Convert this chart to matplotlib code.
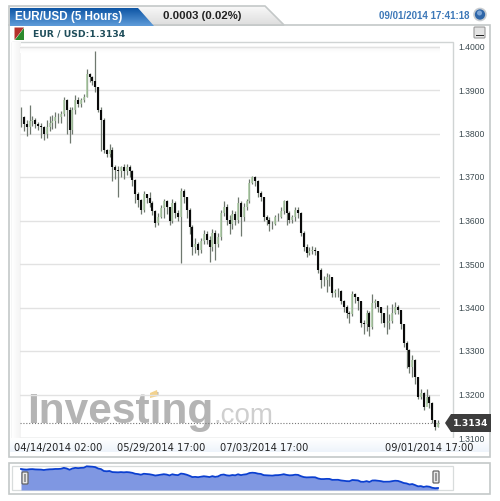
import numpy as np
import matplotlib
matplotlib.use("Agg")
import matplotlib.pyplot as plt
from matplotlib.patches import Rectangle, Polygon, FancyBboxPatch, Circle

closes = [
 1.3837,1.3821,1.3814,1.3828,1.3832,1.3821,1.3818,1.3814,1.3798,1.3814,
 1.3825,1.3828,1.3837,1.3837,1.3844,1.3878,1.3855,1.3809,1.3855,1.3878,
 1.3867,1.3878,1.3883,1.3936,1.3929,1.3920,1.3906,1.3855,1.3832,1.3763,
 1.3752,1.3763,1.3722,1.3717,1.3713,1.3722,1.3713,1.3722,1.3713,1.3694,
 1.3660,1.3648,1.3625,1.3660,1.3652,1.3641,1.3621,1.3595,1.3609,1.3628,1.3644,1.3630,
 1.3598,1.3641,1.3618,1.3609,1.3667,1.3653,1.3625,1.3586,1.3538,1.3545,
 1.3533,1.3552,1.3568,1.3556,1.3538,1.3572,1.3545,1.3563,1.3618,1.3632,
 1.3602,1.3591,1.3614,1.3602,1.3641,1.3609,1.3630,1.3644,1.3687,1.3699,
 1.3690,1.3664,1.3653,1.3609,1.3602,1.3591,1.3591,1.3607,1.3609,1.3621,
 1.3644,1.3618,1.3602,1.3607,1.3625,1.3618,1.3572,1.3538,1.3526,1.3531,
 1.3533,1.3529,1.3487,1.3464,1.3464,1.3471,1.3469,1.3434,1.3437,1.3437,
 1.3414,1.3402,1.3388,1.3384,1.3430,1.3423,1.3414,1.3365,1.3361,1.3388,
 1.3356,1.3411,1.3414,1.3402,1.3388,1.3365,1.3365,1.3368,1.3388,1.3402,
 1.3395,1.3361,1.3319,1.3303,1.3264,1.3280,1.3241,1.3195,1.3204,
 1.3172,1.3195,1.3181,1.3142,1.3126,1.3134]
highs = [
 1.3860,1.3840,1.3830,1.3865,1.3840,1.3835,1.3826,1.3825,1.3818,1.3830,
 1.3840,1.3842,1.3850,1.3848,1.3852,1.3885,1.3880,1.3860,1.3862,1.3888,
 1.3885,1.3882,1.3890,1.3948,1.3940,1.3932,1.3990,1.3906,1.3860,1.3835,
 1.3765,1.3775,1.3768,1.3728,1.3725,1.3725,1.3730,1.3730,1.3728,1.3715,
 1.3695,1.3665,1.3650,1.3668,1.3662,1.3665,1.3645,1.3625,1.3618,1.3635,1.3650,1.3648,
 1.3632,1.3650,1.3645,1.3625,1.3675,1.3672,1.3655,1.3628,1.3590,1.3560,
 1.3550,1.3560,1.3578,1.3575,1.3565,1.3580,1.3578,1.3572,1.3625,1.3645,
 1.3638,1.3612,1.3625,1.3622,1.3655,1.3645,1.3640,1.3650,1.3695,1.3703,
 1.3702,1.3692,1.3668,1.3655,1.3612,1.3608,1.3600,1.3612,1.3618,1.3630,
 1.3648,1.3648,1.3622,1.3612,1.3630,1.3632,1.3620,1.3575,1.3545,1.3538,
 1.3542,1.3538,1.3530,1.3490,1.3472,1.3480,1.3478,1.3470,1.3442,1.3445,
 1.3440,1.3418,1.3405,1.3392,1.3438,1.3434,1.3425,1.3415,1.3372,1.3395,
 1.3392,1.3432,1.3420,1.3415,1.3402,1.3388,1.3405,1.3385,1.3408,1.3412,
 1.3405,1.3395,1.3362,1.3322,1.3305,1.3290,1.3282,1.3240,1.3212,
 1.3205,1.3212,1.3198,1.3182,1.3142,1.3142]
lows = [
 1.3815,1.3805,1.3795,1.3800,1.3818,1.3812,1.3808,1.3790,1.3785,1.3790,
 1.3805,1.3810,1.3812,1.3825,1.3825,1.3840,1.3800,1.3778,1.3800,1.3845,
 1.3860,1.3862,1.3872,1.3883,1.3918,1.3912,1.3895,1.3850,1.3760,1.3755,
 1.3745,1.3745,1.3690,1.3695,1.3655,1.3700,1.3695,1.3705,1.3700,1.3680,
 1.3640,1.3630,1.3615,1.3620,1.3640,1.3630,1.3612,1.3585,1.3590,1.3605,1.3605,1.3615,
 1.3590,1.3595,1.3605,1.3598,1.3503,1.3640,1.3605,1.3570,1.3520,1.3525,
 1.3520,1.3525,1.3545,1.3545,1.3505,1.3530,1.3510,1.3540,1.3555,1.3610,
 1.3590,1.3570,1.3580,1.3590,1.3595,1.3565,1.3600,1.3625,1.3640,1.3685,
 1.3680,1.3655,1.3645,1.3600,1.3590,1.3575,1.3580,1.3590,1.3598,1.3605,
 1.3615,1.3590,1.3595,1.3595,1.3600,1.3605,1.3565,1.3530,1.3515,1.3520,
 1.3522,1.3520,1.3480,1.3445,1.3450,1.3435,1.3450,1.3425,1.3425,1.3425,
 1.3408,1.3390,1.3375,1.3365,1.3380,1.3410,1.3395,1.3355,1.3340,1.3345,
 1.3335,1.3350,1.3400,1.3390,1.3365,1.3355,1.3340,1.3350,1.3365,1.3385,
 1.3385,1.3350,1.3310,1.3260,1.3250,1.3240,1.3225,1.3190,1.3190,
 1.3165,1.3180,1.3170,1.3135,1.3118,1.3125]
x_tick_bars = [13, 49, 85, 143]
x_tick_labels = ["04/14/2014 02:00", "05/29/2014 17:00", "07/03/2014 17:00", "09/01/2014 17:00"]
y_ticks = [1.31, 1.32, 1.33, 1.34, 1.35, 1.36, 1.37, 1.38, 1.39, 1.40]
last_price = 1.3134

W, H = 500, 501
fig = plt.figure(figsize=(W/100, H/100), dpi=100, facecolor="white")
plt.rcParams["font.family"] = ["Liberation Sans", "DejaVu Sans"]

def rect(l, t, r, b):
    return [l/W, 1-b/H, (r-l)/W, (b-t)/H]

# ---- chrome layer in pixel coordinates
bg = fig.add_axes([0, 0, 1, 1], zorder=0)
bg.set_xlim(0, W); bg.set_ylim(H, 0); bg.axis("off")
BORD = "#c4c8c8"
LSC = matplotlib.colors.LinearSegmentedColormap
bg.add_patch(Rectangle((9, 25), 481, 432, fc="white", ec=BORD, lw=1.2))
bg.add_patch(Rectangle((11.5, 41.5), 441.5, 396.5, fc="white", ec="#d0d4d4", lw=1))
# axis label band
band = np.linspace(0, 1, 20)[:, None]
bg.imshow(band, extent=(10, 489, 452, 438), cmap=LSC.from_list("b", ["#ffffff", "#eef4fb"]), aspect="auto", zorder=1)
# left and top fade of plot area
bg.imshow(np.linspace(0, 1, 20)[None, :], extent=(12, 21, 438, 42),
          cmap=LSC.from_list("l", ["#ffffff", "#f3f3f3"]), aspect="auto", zorder=1)
bg.imshow(np.linspace(0, 1, 10)[:, None], extent=(20, 440, 53, 46),
          cmap=LSC.from_list("t", ["#f5f5f5", "#ffffff"]), aspect="auto", zorder=1)
# gray tab
grey_tab = bg.imshow(np.linspace(0, 1, 20)[:, None], extent=(9, 284, 25, 6),
                     cmap=LSC.from_list("g", ["#f8f8f8", "#dedede"]), aspect="auto", zorder=2)
grey_poly = Polygon([(9, 25), (9, 6), (265, 6), (284, 25)], closed=True, fc="none", ec=BORD, lw=1.2, zorder=3)
bg.add_patch(grey_poly)
grey_tab.set_clip_path(grey_poly)
# blue tab
blue_tab = bg.imshow(np.linspace(0, 1, 20)[:, None], extent=(10, 154, 26, 8),
                     cmap=LSC.from_list("bl", ["#0f57a6", "#5d9ad8"]), aspect="auto", zorder=4)
blue_poly = Polygon([(10, 26), (10, 8), (138, 8), (154, 26)], closed=True, fc="none", ec="none", zorder=4)
bg.add_patch(blue_poly)
blue_tab.set_clip_path(blue_poly)
bg.text(15, 16.5, "EUR/USD (5 Hours)", color="white", fontsize=8.4, fontweight="bold", va="center", zorder=5, family="Liberation Sans")
bg.text(163, 16, "0.0003 (0.02%)", color="#222222", fontsize=8.2, fontweight="bold", va="center", zorder=5, family="Liberation Sans")
bg.text(379, 16, "09/01/2014 17:41:18", color="#3d78b8", fontsize=7.0, fontweight="bold", va="center", zorder=5, family="Liberation Sans")
bg.add_patch(Circle((480, 14.5), 6, fc="#2f66a8", ec="#c8ccd0", lw=1.2, zorder=5))
bg.add_patch(Circle((479.5, 13), 2.5, fc="#7ea6d6", ec="none", zorder=6))
# minimise button
bg.add_patch(FancyBboxPatch((475, 28), 9, 9, boxstyle="round,pad=1", fc="#e4e4e4", ec="#9a9a9a", lw=0.8, zorder=5))
bg.add_patch(Rectangle((476, 34.5), 8, 1.6, fc="#222222", ec="none", zorder=6))
# legend swatch
bg.add_patch(Polygon([(14.5, 27.5), (24, 27.5), (14.5, 40)], closed=True, fc="#b5312a", ec="none", zorder=5))
bg.add_patch(Polygon([(24, 27.5), (24, 40), (14.5, 40)], closed=True, fc="#2c8a2c", ec="none", zorder=5))
bg.text(33, 33.5, "EUR / USD:1.3134", color="#1f4d5a", fontsize=6.7, fontweight="bold", va="center", zorder=5, family="DejaVu Sans")
# watermark
bg.text(27, 423, "Investing", color="#b4b4b4", fontsize=30.5, fontweight="bold", va="baseline", zorder=2, family="Liberation Sans")
bg.text(214, 423, ".com", color="#cfcfcf", fontsize=20, va="baseline", zorder=2, family="Liberation Sans")
bg.add_patch(Polygon([(150, 393), (157, 390), (158, 396), (150, 398)], closed=True, fc="#f3d28e", ec="none", zorder=3))
# overview frame
bg.add_patch(Rectangle((9, 463), 481, 31, fc="white", ec=BORD, lw=1.2))
bg.add_patch(Rectangle((11.5, 466), 441.5, 24, fc="white", ec="#d8dcdc", lw=0.9))

# ---- main candle chart
ax = fig.add_axes(rect(20, 46.5, 440, 438), zorder=1)
ax.patch.set_visible(False)
closes_a, highs_a, lows_a = np.array(closes), np.array(highs), np.array(lows)
opens_a = np.r_[closes_a[0], closes_a[:-1]]
idx = np.arange(len(closes))
step = 417 / (len(closes) - 1)
ax.set_xlim(-1 / step, (440 - 21) / step)
ax.set_ylim(1.31, 1.40)
up = closes_a >= opens_a
ax.vlines(idx, lows_a, highs_a, colors="#6f786f", lw=0.9, zorder=3)
ax.vlines(idx[up], opens_a[up], closes_a[up], colors="#a8c8a0", lw=1.1, zorder=4)
ax.vlines(idx[~up], closes_a[~up], opens_a[~up], colors="#0a0a0a", lw=1.5, zorder=5)
ax.axhline(last_price, color="#777777", lw=0.8, ls=(0, (1, 1.6)), zorder=2)
for s in ax.spines.values():
    s.set_visible(False)
ax.set_yticks(y_ticks)
ax.set_yticklabels([f"{v:.4f}" for v in y_ticks], color="#3c4a50", fontsize=6.2, family="Liberation Sans")
ax.yaxis.tick_right()
ax.tick_params(axis="y", length=0, pad=13)
ax.set_xticks(x_tick_bars)
ax.set_xticklabels(x_tick_labels, color="#222222", fontsize=7.1, family="DejaVu Sans")
ax.tick_params(axis="x", length=0, pad=3.5)
ax.grid(axis="y", color="#e2e2e2", lw=1.0, zorder=1)
ax.set_axisbelow(True)

# ---- price tag (on its own overlay)
top = fig.add_axes([0, 0, 1, 1], zorder=3)
top.set_xlim(0, W); top.set_ylim(H, 0); top.axis("off"); top.patch.set_visible(False)
top.add_patch(Polygon([(445, 423), (451, 414), (491, 414), (491, 432), (451, 432)], closed=True, fc="#3d3d3d", ec="none"))
top.text(470.5, 423.2, f"{last_price:.4f}", color="white", fontsize=6.6, fontweight="bold", ha="center", va="center", family="DejaVu Sans")

# ---- overview strip
ov = fig.add_axes(rect(20, 459, 440, 490), zorder=1)
ov.patch.set_visible(False)
ov.set_xlim(ax.get_xlim())
ov.set_ylim(1.306, 1.4206)
ov.fill_between(idx, closes_a, 1.306, color="#7f97e2", lw=0)
ov.plot(idx, closes_a, color="#0b3fd0", lw=1.3)
ov.axis("off")
for hx, hy in ((25, 478), (436, 477)):
    top.add_patch(FancyBboxPatch((hx-2, hy-5), 4, 10, boxstyle="round,pad=1", fc="#e8e8e8", ec="#666666", lw=0.9))
    top.add_patch(Rectangle((hx-0.8, hy-4), 1.6, 8, fc="#999999", ec="none"))

fig.savefig("out.png", dpi=100, facecolor="white")
